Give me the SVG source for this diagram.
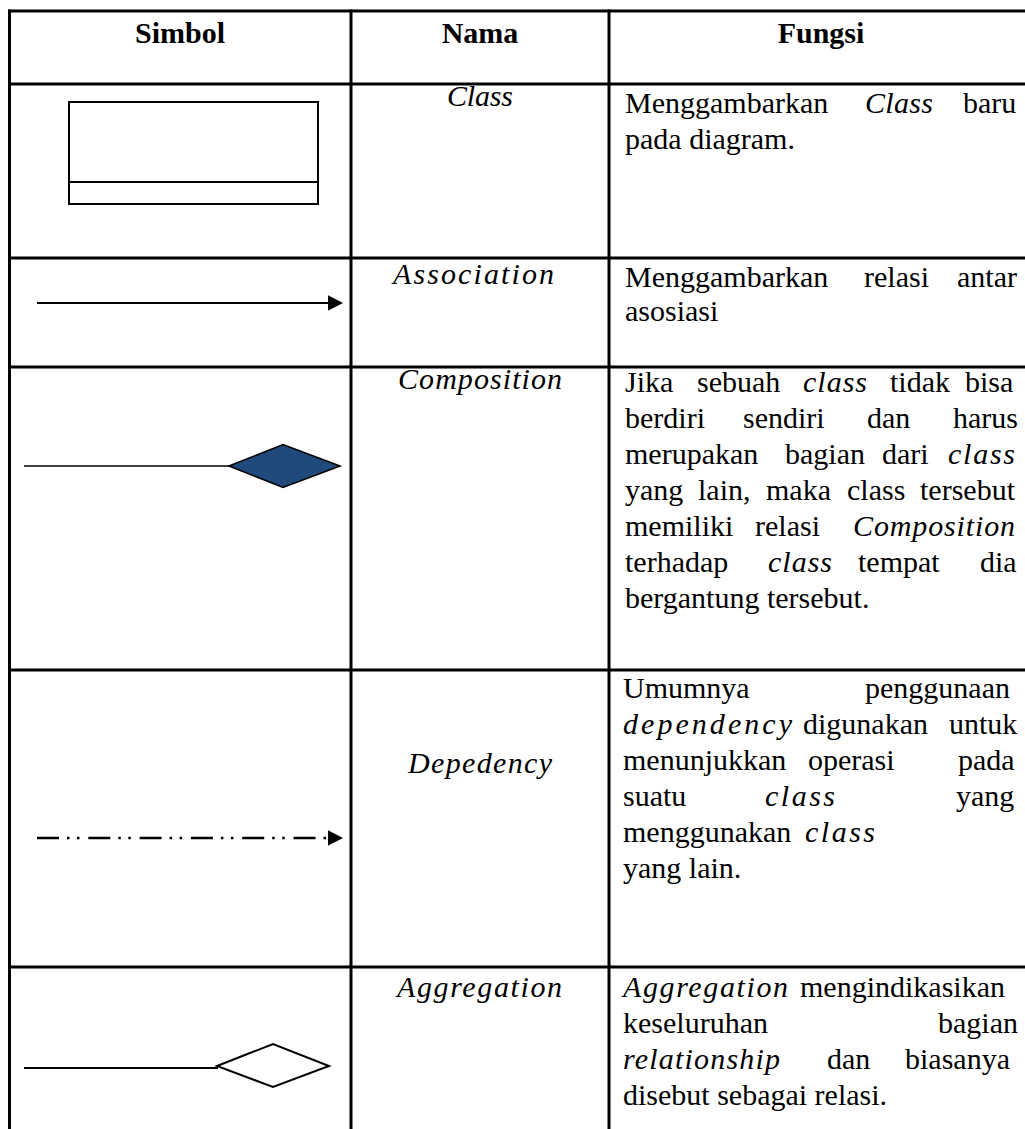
<svg xmlns="http://www.w3.org/2000/svg" width="1025" height="1129" viewBox="0 0 1025 1129">
<defs>
<style>
.t{font-family:"Liberation Serif","Times New Roman",serif;font-size:30px;fill:#000}
.i{font-style:italic}
.h{font-weight:bold;font-size:30px}
.grid{stroke:#000;stroke-width:3;fill:none}
.sym{stroke:#000;stroke-width:2;fill:none}
</style>
<marker id="arr" markerUnits="userSpaceOnUse" markerWidth="16" markerHeight="16" refX="0" refY="8" orient="auto">
<path d="M0,0.3 L15,8 L0,15.7 z" fill="#000"/>
</marker>
</defs>
<rect width="1025" height="1129" fill="#fff"/>
<g id="grid" class="grid">
<line x1="9.5" y1="9.5" x2="9.5" y2="1129"/>
<line x1="351" y1="9.5" x2="351" y2="1129"/>
<line x1="609" y1="9.5" x2="609" y2="1129"/>
<line x1="8" y1="11" x2="1025" y2="11"/>
<line x1="8" y1="84" x2="1025" y2="84"/>
<line x1="8" y1="258" x2="1025" y2="258"/>
<line x1="8" y1="367" x2="1025" y2="367"/>
<line x1="8" y1="670" x2="1025" y2="670"/>
<line x1="8" y1="967" x2="1025" y2="967"/>
</g>
<g id="header" class="t h">
<text x="180" y="43" text-anchor="middle">Simbol</text>
<text x="480" y="43" text-anchor="middle">Nama</text>
<text x="821" y="43" text-anchor="middle">Fungsi</text>
</g>
<g id="row-class">
<rect class="sym" x="69" y="102" width="249" height="102"/>
<line class="sym" x1="69" y1="182" x2="318" y2="182"/>
<text class="t i" x="447" y="106" textLength="66">Class</text>
<text class="t" y="113"><tspan x="625">Menggambarkan</tspan><tspan x="865" class="i" textLength="68">Class</tspan><tspan x="963">baru</tspan></text>
<text class="t" x="625" y="149">pada diagram.</text>
</g>
<g id="row-association">
<text class="t i" x="393" y="284" textLength="161">Association</text>
<text class="t" y="287"><tspan x="625">Menggambarkan</tspan><tspan x="864">relasi</tspan><tspan x="957">antar</tspan></text>
<text class="t" x="625" y="321">asosiasi</text>
</g>
<g id="row-composition">
<text class="t i" x="398" y="389" textLength="164">Composition</text>
<text class="t" y="392"><tspan x="625">Jika</tspan><tspan x="697">sebuah</tspan><tspan x="803" class="i" textLength="64">class</tspan><tspan x="890">tidak</tspan><tspan x="965">bisa</tspan></text>
<text class="t" y="428"><tspan x="625">berdiri</tspan><tspan x="743">sendiri</tspan><tspan x="867">dan</tspan><tspan x="953">harus</tspan></text>
<text class="t" y="464"><tspan x="625">merupakan</tspan><tspan x="785">bagian</tspan><tspan x="882">dari</tspan><tspan x="948" class="i" textLength="67">class</tspan></text>
<text class="t" y="500"><tspan x="625">yang</tspan><tspan x="698">lain,</tspan><tspan x="766">maka</tspan><tspan x="847">class</tspan><tspan x="920">tersebut</tspan></text>
<text class="t" y="536"><tspan x="625">memiliki</tspan><tspan x="755">relasi</tspan><tspan x="853" class="i" textLength="162">Composition</tspan></text>
<text class="t" y="572"><tspan x="625">terhadap</tspan><tspan x="768" class="i" textLength="64">class</tspan><tspan x="858">tempat</tspan><tspan x="980">dia</tspan></text>
<text class="t" x="625" y="608">bergantung tersebut.</text>
</g>
<g id="row-dependency">
<text class="t i" x="408" y="773" textLength="144">Depedency</text>
<text class="t" y="698"><tspan x="623">Umumnya</tspan><tspan x="865">penggunaan</tspan></text>
<text class="t" y="734"><tspan x="623" class="i" textLength="169">dependency</tspan><tspan x="803">digunakan</tspan><tspan x="949">untuk</tspan></text>
<text class="t" y="770"><tspan x="623">menunjukkan</tspan><tspan x="808">operasi</tspan><tspan x="958">pada</tspan></text>
<text class="t" y="806"><tspan x="623">suatu</tspan><tspan x="765" class="i" textLength="70">class</tspan><tspan x="956">yang</tspan></text>
<text class="t" y="842"><tspan x="623">menggunakan</tspan><tspan x="805" class="i" textLength="70">class</tspan></text>
<text class="t" x="623" y="878">yang lain.</text>
</g>
<g id="row-aggregation">
<text class="t i" x="397" y="997" textLength="165">Aggregation</text>
<text class="t" y="997"><tspan x="623" class="i" textLength="165">Aggregation</tspan><tspan x="800">mengindikasikan</tspan></text>
<text class="t" y="1033"><tspan x="623">keseluruhan</tspan><tspan x="938">bagian</tspan></text>
<text class="t" y="1069"><tspan x="623" class="i" textLength="157">relationship</tspan><tspan x="827">dan</tspan><tspan x="905">biasanya</tspan></text>
<text class="t" x="623" y="1105">disebut sebagai relasi.</text>
</g>
<g id="connectors">
<line class="sym" x1="37" y1="303" x2="328" y2="303" marker-end="url(#arr)"/>
<line x1="24" y1="466" x2="230" y2="466" stroke="#000" stroke-width="1.6"/>
<polygon points="229,466 283,444.5 340,466 283,487.5" fill="#204A7C" stroke="#000" stroke-width="1.6"/>
<line x1="37" y1="838" x2="328" y2="838" stroke="#000" stroke-width="2.6" stroke-dasharray="22 8 2.5 7.5 2.5 8.8" marker-end="url(#arr)"/>
<line x1="24" y1="1068" x2="218" y2="1068" stroke="#000" stroke-width="1.8"/>
<polygon points="217,1066 273,1044 329,1066 273,1087" fill="#fff" stroke="#000" stroke-width="2"/>
</g>
</svg>
